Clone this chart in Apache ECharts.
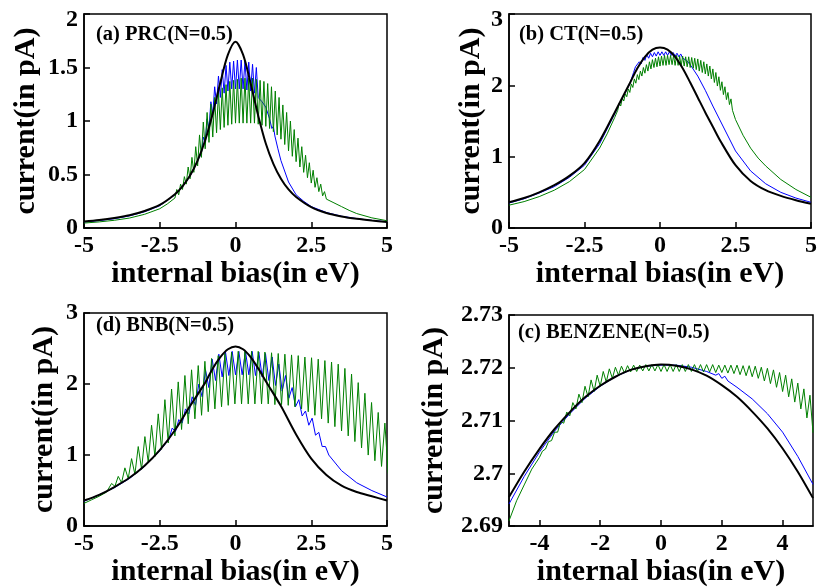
<!DOCTYPE html>
<html><head><meta charset="utf-8">
<script src="https://cdn.jsdelivr.net/npm/echarts@6/dist/echarts.min.js"></script>
<style>html,body{margin:0;padding:0;background:#fff}#c{width:820px;height:588px}</style>
</head><body><div id="c"></div>
<script>
// ---------------- Panel (a) PRC ----------------
const prcBlackX = [-5,-4.5,-4,-3.5,-3,-2.5,-2,-1.75,-1.5,-1.25,-1,-0.75,-0.5,-0.25,0,0.25,0.5,0.75,1,1.25,1.5,1.75,2,2.5,3,3.5,4,4.5,5];
const prcBlackY = [0.060,0.074,0.093,0.119,0.159,0.215,0.315,0.39,0.49,0.63,0.82,1.07,1.36,1.62,1.74,1.62,1.35,1.05,0.79,0.60,0.46,0.36,0.29,0.195,0.14,0.108,0.086,0.07,0.057];
const prcBlueLeftX = [-5,-4.5,-4,-3.5,-3,-2.5,-2,-1.75,-1.5,-1.25];
const prcBlueLeftY = [0.056,0.069,0.087,0.113,0.152,0.208,0.31,0.385,0.485,0.63];
const prcBlueTroughs = [0.70,0.80,0.93,1.06,1.16,1.22,1.26,1.28,1.30,1.30,1.30,1.30,1.29,1.28,1.26,1.22];
const prcBluePeaks = [0.85,1.02,1.18,1.32,1.42,1.48,1.52,1.55,1.56,1.57,1.57,1.56,1.55,1.53,1.50];
const prcBlueRightX = [0.875,1,1.125,1.2,1.25,1.3,1.4,1.5,1.75,2,2.25,2.5,3,3.5,4,4.5,5];
const prcBlueRightY = [1.18,1.13,1.02,0.93,0.95,0.86,0.74,0.63,0.43,0.31,0.25,0.20,0.145,0.11,0.088,0.071,0.058];
const prcGreenLeftX = [-5,-4.5,-4,-3.5,-3,-2.5,-2.25];
const prcGreenLeftY = [0.046,0.057,0.072,0.093,0.128,0.18,0.225];
const prcGreenTroughs = [0.28,0.31,0.36,0.41,0.46,0.52,0.58,0.66,0.74,0.80,0.85,0.89,0.92,0.94,0.96,0.97,0.98,0.98,0.98,0.98,0.98,0.98,0.97,0.96,0.95,0.93,0.90,0.87,0.83,0.78,0.72,0.67,0.62,0.57,0.52,0.47,0.42,0.38,0.34,0.30,0.27];
const prcGreenPeaks = [0.36,0.41,0.48,0.57,0.66,0.76,0.87,0.99,1.08,1.16,1.22,1.27,1.31,1.34,1.37,1.38,1.39,1.40,1.40,1.40,1.40,1.39,1.38,1.37,1.35,1.32,1.28,1.22,1.15,1.08,1.00,0.92,0.84,0.76,0.68,0.61,0.54,0.47,0.41,0.34];
const prcGreenRightX = [3.25,3.5,3.75,4,4.5,5];
const prcGreenRightY = [0.235,0.2,0.165,0.135,0.095,0.068];

// ---------------- Panel (b) CT ----------------
const ctBlackX = [-5,-4.5,-4,-3.5,-3,-2.5,-2,-1.5,-1,-0.75,-0.5,-0.25,0,0.25,0.5,0.75,1,1.25,1.5,1.75,2,2.5,3,3.5,4,4.5,5];
const ctBlackY = [0.36,0.42,0.50,0.60,0.73,0.91,1.22,1.62,2.03,2.24,2.40,2.50,2.53,2.50,2.40,2.24,2.04,1.83,1.62,1.42,1.22,0.88,0.66,0.53,0.45,0.39,0.34];
const ctBlueLeftX = [-5,-4.5,-4,-3.5,-3,-2.5,-2,-1.5,-1.25,-1];
const ctBlueLeftY = [0.35,0.41,0.49,0.58,0.71,0.88,1.18,1.60,1.82,2.02];
const ctBlueTroughs = [2.18,2.24,2.30,2.35,2.38,2.40,2.41,2.42,2.42,2.42,2.42,2.41,2.40,2.38];
const ctBluePeaks = [2.26,2.33,2.39,2.43,2.45,2.46,2.47,2.47,2.47,2.47,2.46,2.45,2.44];
const ctBlueRightX = [0.875,1,1.25,1.5,1.75,2,2.5,3,3.5,4,4.5,5];
const ctBlueRightY = [2.35,2.29,2.13,1.93,1.71,1.50,1.08,0.80,0.62,0.50,0.42,0.36];
const ctGreenLeftX = [-5,-4.5,-4,-3.5,-3,-2.5,-2,-1.75,-1.5];
const ctGreenLeftY = [0.32,0.37,0.44,0.53,0.65,0.82,1.12,1.32,1.55];
const ctGreenTroughs = [1.65,1.71,1.78,1.84,1.90,1.97,2.03,2.08,2.13,2.17,2.20,2.23,2.25,2.26,2.27,2.28,2.28,2.29,2.29,2.28,2.28,2.27,2.27,2.26,2.25,2.24,2.22,2.20,2.18,2.16,2.13,2.09,2.04,1.99,1.93,1.87,1.80,1.73,1.65];
const ctGreenPeaks = [1.75,1.82,1.88,1.95,2.02,2.09,2.15,2.20,2.25,2.29,2.33,2.36,2.38,2.40,2.41,2.42,2.42,2.42,2.42,2.42,2.41,2.41,2.40,2.40,2.39,2.38,2.37,2.35,2.33,2.30,2.27,2.23,2.18,2.12,2.05,1.98,1.90,1.81];
const ctGreenRightX = [2.5,2.75,3,3.25,3.5,4,4.5,5];
const ctGreenRightY = [1.52,1.30,1.12,0.98,0.87,0.68,0.54,0.43];

// ---------------- Panel (d) BNB ----------------
const bnbBlackX = [-5,-4.5,-4,-3.5,-3,-2.5,-2,-1.5,-1,-0.75,-0.5,-0.25,0,0.25,0.5,0.75,1,1.5,2,2.5,3,3.5,4,4.5,5];
const bnbBlackY = [0.36,0.44,0.55,0.68,0.85,1.07,1.35,1.69,2.02,2.22,2.38,2.49,2.53,2.49,2.38,2.22,2.04,1.69,1.29,0.95,0.72,0.57,0.48,0.42,0.36];
const bnbBlueLeftX = [-5,-4.5,-4,-3.5,-3,-2.5];
const bnbBlueLeftY = [0.35,0.44,0.54,0.67,0.84,1.06];
const bnbBlueTroughs = [1.22,1.33,1.45,1.58,1.70,1.82,1.95,2.05,2.10,2.12,2.13,2.13,2.13,2.12,2.10,2.05,1.98,1.90,1.80,1.68,1.55,1.42,1.28,1.12,1.00];
const bnbBluePeaks = [1.38,1.50,1.65,1.82,2.00,2.20,2.35,2.42,2.45,2.46,2.46,2.46,2.46,2.45,2.43,2.38,2.28,2.12,1.95,1.78,1.62,1.52,1.32,1.12];
const bnbBlueRightX = [3.5,4,4.5,5];
const bnbBlueRightY = [0.78,0.61,0.50,0.41];
const bnbGreenLeftX = [-5,-4.75,-4.5,-4.25];
const bnbGreenLeftY = [0.32,0.37,0.42,0.48];
const bnbGreenTroughs = [0.52,0.56,0.61,0.67,0.73,0.80,0.90,0.98,1.08,1.17,1.27,1.36,1.44,1.51,1.56,1.61,1.65,1.68,1.70,1.72,1.72,1.72,1.72,1.72,1.72,1.71,1.71,1.70,1.68,1.65,1.61,1.56,1.51,1.45,1.40,1.34,1.27,1.19,1.10,1.00,0.92,0.84,0.74];
const bnbGreenPeaks = [0.60,0.70,0.82,0.95,1.12,1.26,1.42,1.58,1.78,1.93,2.03,2.12,2.20,2.26,2.32,2.36,2.40,2.43,2.45,2.46,2.46,2.46,2.46,2.45,2.44,2.43,2.42,2.41,2.40,2.38,2.37,2.35,2.33,2.31,2.28,2.22,2.14,2.02,1.87,1.74,1.60,1.45];

// ---------------- Panel (c) BENZENE ----------------
const benBlackX = [-5,-4.5,-4,-3.5,-3,-2.5,-2,-1.5,-1,-0.5,0,0.5,1,1.5,2,2.5,3,3.5,4,4.5,5];
const benBlackY = [2.6955,2.7003,2.7046,2.7084,2.7116,2.7144,2.7166,2.7183,2.7196,2.7203,2.7206,2.7204,2.7197,2.7185,2.7167,2.7145,2.7117,2.7085,2.7047,2.7003,2.6953];
const benBlueX = [-5,-4.5,-4,-3.5,-3,-2.5,-2,-1.5,-1,-0.5,0,0.5,1,1.5,1.8,1.9,2,2.1,2.2,2.5,3,3.5,4,4.5,5];
const benBlueY = [2.6942,2.6994,2.7040,2.7080,2.7113,2.7142,2.7165,2.7183,2.7196,2.7203,2.7205,2.7205,2.7201,2.7193,2.7186,2.7189,2.7180,2.7184,2.7175,2.7163,2.7141,2.7113,2.7078,2.7032,2.6979];
const benGreenLeftX = [-5,-4.75,-4.5,-4.25];
const benGreenLeftY = [2.6910,2.6948,2.6978,2.7008];
const benGreenTroughs = [2.7030,2.7046,2.7062,2.7078,2.7095,2.7109,2.7122,2.7134,2.7145,2.7155,2.7165,2.7173,2.7180,2.7186,2.7190,2.7192,2.7193,2.7194,2.7194,2.7194,2.7193,2.7193,2.7193,2.7193,2.7193,2.7193,2.7193,2.7192,2.7192,2.7191,2.7191,2.7190,2.7189,2.7187,2.7185,2.7183,2.7180,2.7175,2.7170,2.7163,2.7155,2.7145,2.7135,2.7122,2.7105,2.7077];
const benGreenPeaks = [2.7042,2.7060,2.7078,2.7098,2.7116,2.7134,2.7150,2.7165,2.7177,2.7186,2.7193,2.7198,2.7201,2.7203,2.7204,2.7205,2.7205,2.7206,2.7206,2.7206,2.7206,2.7206,2.7206,2.7206,2.7206,2.7206,2.7206,2.7206,2.7206,2.7205,2.7205,2.7205,2.7205,2.7204,2.7204,2.7203,2.7201,2.7199,2.7196,2.7191,2.7186,2.7179,2.7171,2.7160,2.7148];

// ---------------- texts ----------------
const panelTitles = ['(a) PRC(N=0.5)', '(b) CT(N=0.5)', '(d) BNB(N=0.5)', '(c) BENZENE(N=0.5)'];
const xName = 'internal bias(in eV)';
const yName = 'current(in pA)';
const benXTicks = [-4,-2,0,2,4];

// ---------------- helpers ----------------
function pairs(xs, ys) { return xs.map((x, i) => [x, ys[i]]); }
function zigzag(x0, half, troughs, peaks) {
  const out = [];
  for (let i = 0; i < troughs.length; i++) {
    out.push([x0 + 2 * i * half, troughs[i]]);
    if (i < peaks.length) out.push([x0 + (2 * i + 1) * half, peaks[i]]);
  }
  return out;
}

const FONT = '"Liberation Serif", "Times New Roman", serif';
const BLACK = '#000000', BLUE = '#0000ff', GREEN = '#008000';

const grids = [
  {left: 84, top: 14, width: 303, height: 214},
  {left: 509, top: 14, width: 304, height: 214},
  {left: 84, top: 313, width: 303, height: 214},
  {left: 509, top: 315, width: 304, height: 212}
].map(g => Object.assign(g, {show: true, borderColor: '#000', borderWidth: 1.5, backgroundColor: 'transparent'}));

function xAxis(gi, nameGap, custom) {
  const ax = {
    gridIndex: gi, type: 'value', min: -5, max: 5,
    axisLine: {show: true, onZero: false, lineStyle: {color: '#000', width: 1.5}},
    axisTick: {show: true, inside: true, length: 6, lineStyle: {color: '#000', width: 1.5}},
    axisLabel: {color: '#000', fontFamily: FONT, fontWeight: 'bold', fontSize: 24, margin: 6,
      formatter: v => String(v)},
    splitLine: {show: false},
    name: xName, nameLocation: 'middle', nameGap: nameGap,
    nameTextStyle: {color: '#000', fontFamily: FONT, fontWeight: 'bold', fontSize: 30}
  };
  if (custom) {
    ax.axisLabel.customValues = custom;
    ax.axisTick.customValues = custom;
  } else {
    ax.interval = 2.5;
  }
  return ax;
}
function yAxis(gi, min, max, interval, nameGap, shiftTop, dec) {
  const base = {color: '#000', fontFamily: FONT, fontWeight: 'bold', fontSize: 24};
  return {
    gridIndex: gi, type: 'value', min: min, max: max, interval: interval,
    axisLine: {show: true, onZero: false, lineStyle: {color: '#000', width: 1.5}},
    axisTick: {show: true, inside: true, length: 6, lineStyle: {color: '#000', width: 1.5}},
    axisLabel: Object.assign({}, base, {margin: 6,
      formatter: v => {
        const s = String(parseFloat(v.toFixed(dec)));
        return (shiftTop && Math.abs(v - max) < 1e-9) ? '{t|' + s + '}' : s;
      },
      rich: {t: Object.assign({}, base, {padding: [12, 0, 0, 0]})}
    }),
    splitLine: {show: false},
    name: yName, nameLocation: 'middle', nameGap: nameGap, nameRotate: 90,
    nameTextStyle: {color: '#000', fontFamily: FONT, fontWeight: 'bold', fontSize: 30}
  };
}

function line(gi, color, width, data, z) {
  return {type: 'line', xAxisIndex: gi, yAxisIndex: gi, data: data, showSymbol: false, symbol: 'none',
    lineStyle: {color: color, width: width}, itemStyle: {color: color}, z: z, clip: true, animation: false};
}

const series = [
  // (a)
  line(0, BLUE, 1, pairs(prcBlueLeftX, prcBlueLeftY).concat(zigzag(-1.125, 0.0625, prcBlueTroughs, prcBluePeaks), pairs(prcBlueRightX, prcBlueRightY)), 2),
  line(0, GREEN, 1, pairs(prcGreenLeftX, prcGreenLeftY).concat(zigzag(-2, 0.0625, prcGreenTroughs, prcGreenPeaks), pairs(prcGreenRightX, prcGreenRightY)), 3),
  Object.assign(line(0, BLACK, 2, pairs(prcBlackX, prcBlackY), 4), {smooth: 0.3}),
  // (b)
  line(1, BLUE, 1, pairs(ctBlueLeftX, ctBlueLeftY).concat(zigzag(-0.875, 0.0625, ctBlueTroughs, ctBluePeaks), pairs(ctBlueRightX, ctBlueRightY)), 2),
  line(1, GREEN, 1, pairs(ctGreenLeftX, ctGreenLeftY).concat(zigzag(-1.4, 0.05, ctGreenTroughs, ctGreenPeaks), pairs(ctGreenRightX, ctGreenRightY)), 3),
  Object.assign(line(1, BLACK, 2, pairs(ctBlackX, ctBlackY), 4), {smooth: 0.3}),
  // (d)
  line(2, BLUE, 1, pairs(bnbBlueLeftX, bnbBlueLeftY).concat(zigzag(-2.2, 0.11, bnbBlueTroughs, bnbBluePeaks), pairs(bnbBlueRightX, bnbBlueRightY)), 2),
  line(2, GREEN, 1, pairs(bnbGreenLeftX, bnbGreenLeftY).concat(zigzag(-4.2, 0.11, bnbGreenTroughs, bnbGreenPeaks)), 3),
  Object.assign(line(2, BLACK, 2, pairs(bnbBlackX, bnbBlackY), 4), {smooth: 0.3}),
  // (c)
  line(3, BLUE, 1, pairs(benBlueX, benBlueY), 2),
  line(3, GREEN, 1, pairs(benGreenLeftX, benGreenLeftY).concat(zigzag(-4.0, 0.1, benGreenTroughs, benGreenPeaks)), 3),
  Object.assign(line(3, BLACK, 2, pairs(benBlackX, benBlackY), 4), {smooth: 0.3})
];

const titlePos = [[96, 24], [519, 24], [96, 315], [518, 322]];
const chart = echarts.init(document.getElementById('c'), null, {renderer: 'canvas'});
chart.setOption({
  backgroundColor: '#ffffff',
  animation: false,
  title: panelTitles.map((t, i) => ({text: t, left: titlePos[i][0], top: titlePos[i][1], padding: 0,
    textStyle: {color: '#000', fontFamily: FONT, fontWeight: 'bold', fontSize: 20.5}})),
  grid: grids,
  xAxis: [xAxis(0, 30), xAxis(1, 30), xAxis(2, 24), xAxis(3, 24, benXTicks)],
  yAxis: [yAxis(0, 0, 2, 0.5, 43, true, 1), yAxis(1, 0, 3, 1, 23, true, 0), yAxis(2, 0, 3, 1, 25, false, 0), yAxis(3, 2.69, 2.73, 0.01, 60, false, 2)],
  series: series
});
</script></body></html>
